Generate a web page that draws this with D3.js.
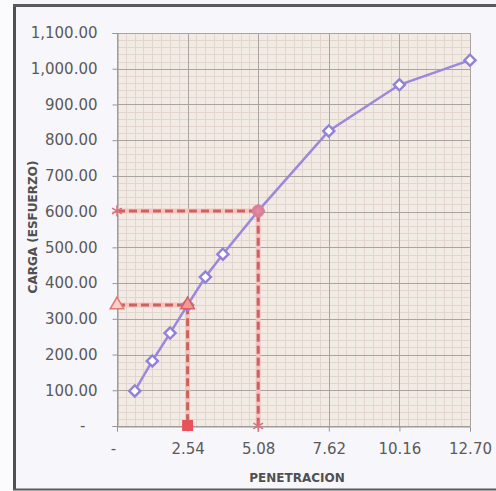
<!DOCTYPE html>
<html><head><meta charset="utf-8">
<script src="https://cdn.jsdelivr.net/npm/d3@7/dist/d3.min.js"></script>
<style>body{margin:0;background:#fff;}svg{display:block;}</style>
</head><body>
<svg id="c" width="496" height="491"></svg>
<script>
// Data
const penetracion = [0.64, 1.27, 1.91, 2.54, 3.18, 3.81, 5.08, 7.62, 10.16, 12.70];
const carga = [98, 182, 260, 339, 417, 481, 602, 826, 955, 1024];
const xTicks = [0, 2.54, 5.08, 7.62, 10.16, 12.70];
const xTickLabels = ["-", "2.54", "5.08", "7.62", "10.16", "12.70"];
const yTicks = [0, 100, 200, 300, 400, 500, 600, 700, 800, 900, 1000, 1100];
const yTickLabels = ["-", "100.00", "200.00", "300.00", "400.00", "500.00", "600.00", "700.00", "800.00", "900.00", "1,000.00", "1,100.00"];
const refPen = [2.54, 5.08];
const refCarga = [339, 602];

const svg = d3.select("#c");
const W = 496, H = 491;
const m = {left: 117, right: 470, top: 33, bottom: 426};
const x = d3.scaleLinear().domain([0, 12.70]).range([m.left, m.right]);
const y = d3.scaleLinear().domain([0, 1100]).range([m.bottom, m.top]);

// background
svg.append("rect").attr("width", W).attr("height", H).attr("fill", "#f7f6fb");
svg.append("rect").attr("x", 0).attr("y", 0).attr("width", 13).attr("height", H).attr("fill", "#fbfbfd");
// frame
svg.append("line").attr("x1", 14.5).attr("x2", 14.5).attr("y1", 5).attr("y2", 490).attr("stroke", "#505050").attr("stroke-width", 3);
svg.append("line").attr("x1", 13).attr("x2", W).attr("y1", 5.5).attr("y2", 5.5).attr("stroke", "#5a5a5a").attr("stroke-width", 3);
svg.append("line").attr("x1", 13).attr("x2", W).attr("y1", 489.5).attr("y2", 489.5).attr("stroke", "#5a5a5a").attr("stroke-width", 2);

// plot area
svg.append("rect").attr("x", m.left).attr("y", m.top).attr("width", m.right - m.left).attr("height", m.bottom - m.top).attr("fill", "#f2ebe3");

const grid = svg.append("g");
// minor grid
const minorX = d3.range(0, 12.70 + 1e-6, 2.54 / 8);
const minorY = d3.range(0, 1100 + 1e-6, 20);
grid.selectAll(".mx").data(minorX).join("line")
  .attr("x1", d => Math.round(x(d)) + 0.5).attr("x2", d => Math.round(x(d)) + 0.5)
  .attr("y1", m.top).attr("y2", m.bottom).attr("stroke", "#e2d5cf").attr("stroke-width", 1);
grid.selectAll(".my").data(minorY).join("line")
  .attr("y1", d => Math.round(y(d)) + 0.5).attr("y2", d => Math.round(y(d)) + 0.5)
  .attr("x1", m.left).attr("x2", m.right).attr("stroke", "#e2d5cf").attr("stroke-width", 1);
// major grid
grid.selectAll(".Mx").data(xTicks).join("line")
  .attr("x1", d => Math.round(x(d)) + 0.5).attr("x2", d => Math.round(x(d)) + 0.5)
  .attr("y1", m.top).attr("y2", m.bottom).attr("stroke", "#aaa3a0").attr("stroke-width", 1);
grid.selectAll(".My").data(yTicks).join("line")
  .attr("y1", d => Math.round(y(d)) + 0.5).attr("y2", d => Math.round(y(d)) + 0.5)
  .attr("x1", m.left).attr("x2", m.right).attr("stroke", "#aaa3a0").attr("stroke-width", 1);

// axes
const font = "DejaVu Sans, sans-serif";
const yAxis = d3.axisLeft(y).tickValues(yTicks).tickSize(5).tickPadding(15)
  .tickFormat((d, i) => yTickLabels[i]);
const gy = svg.append("g").attr("transform", `translate(${m.left + 0.5},0)`).call(yAxis);
gy.select(".domain").attr("stroke", "#9a9592");
gy.selectAll(".tick line").attr("stroke", "#9a9592");
gy.selectAll(".tick text").attr("font-family", font).attr("font-size", 15).attr("fill", "#5a5a5a")
  .attr("dx", (d, i) => i === 0 ? -12 : 0);

const xAxis = d3.axisBottom(x).tickValues(xTicks).tickSize(5).tickPadding(12)
  .tickFormat((d, i) => xTickLabels[i]);
const gx = svg.append("g").attr("transform", `translate(0,${m.bottom + 0.5})`).call(xAxis);
gx.select(".domain").attr("stroke", "#9a9592");
gx.selectAll(".tick line").attr("stroke", "#9a9592");
gx.selectAll(".tick text").attr("font-family", font).attr("font-size", 15).attr("fill", "#5a5a5a")
  .attr("dx", (d, i) => i === 0 ? -4 : 0);

// axis titles
svg.append("text").attr("x", 297).attr("y", 482).attr("text-anchor", "middle")
  .attr("font-family", font).attr("font-weight", "bold").attr("font-size", 12).attr("fill", "#505050")
  .text("PENETRACION");
svg.append("text").attr("transform", "translate(37,227) rotate(-90)").attr("text-anchor", "middle")
  .attr("font-family", font).attr("font-weight", "bold").attr("font-size", 12).attr("fill", "#505050")
  .text("CARGA (ESFUERZO)");

// reference dashed lines
const red = "#cb625c";
const refG = svg.append("g");
refPen.forEach((p, i) => {
  const c = refCarga[i];
  refG.append("path")
    .attr("d", d3.line()([[x(0), y(c)], [x(p), y(c)], [x(p), y(0)]]))
    .attr("fill", "none").attr("stroke", "#f4c4c2").attr("stroke-width", 5);
  refG.append("path")
    .attr("d", d3.line()([[x(0), y(c)], [x(p), y(c)], [x(p), y(0)]]))
    .attr("fill", "none").attr("stroke", red).attr("stroke-width", 3).attr("stroke-dasharray", "8,4");
});

// main series
const pts = penetracion.map((p, i) => [x(p), y(carga[i])]);
svg.append("path").attr("d", d3.line()(pts)).attr("fill", "none")
  .attr("stroke", "#9b87dc").attr("stroke-width", 2.5);
const diamond = d3.symbol().type(d3.symbolSquare).size(62);
svg.selectAll(".pt").data(pts).join("path")
  .attr("transform", d => `translate(${d[0]},${d[1]}) rotate(45)`)
  .attr("d", diamond).attr("fill", "#ffffff").attr("stroke", "#9380d8").attr("stroke-width", 2.4);

// reference markers
const tri = d3.symbol().type(d3.symbolTriangle).size(80);
const star = d3.symbol().type(d3.symbolAsterisk).size(90);
// 2.54 reference
refG.append("path").attr("transform", `translate(${x(0)},${y(refCarga[0])})`).attr("d", tri)
  .attr("fill", "#f7d0cc").attr("stroke", "#e07a72").attr("stroke-width", 1.5);
svg.append("path").attr("transform", `translate(${x(refPen[0])},${y(refCarga[0])})`).attr("d", tri)
  .attr("fill", "#f09a98").attr("stroke", "#dc5e5e").attr("stroke-width", 1.5);
refG.append("rect").attr("x", x(refPen[0]) - 5.5).attr("y", y(0) - 6).attr("width", 11).attr("height", 11)
  .attr("fill", "#e8525a");
// 5.08 reference
svg.append("path").attr("transform", `translate(${x(0)},${y(refCarga[1])})`).attr("d", star)
  .attr("fill", "none").attr("stroke", "#d9707a").attr("stroke-width", 1.5);
svg.append("path").attr("transform", `translate(${x(refPen[1])},${y(0)})`).attr("d", star)
  .attr("fill", "none").attr("stroke", "#d9707a").attr("stroke-width", 1.5);
svg.append("circle").attr("cx", x(refPen[1])).attr("cy", y(refCarga[1])).attr("r", 6.5)
  .attr("fill", "#e27d94").attr("opacity", 0.9);
</script>
</body></html>
